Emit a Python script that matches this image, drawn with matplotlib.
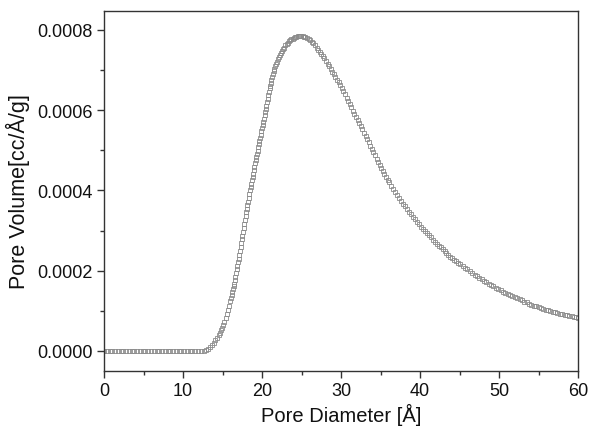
import numpy as np
import matplotlib
matplotlib.use("Agg")
import matplotlib.pyplot as plt
from matplotlib.ticker import MultipleLocator, FormatStrFormatter

# ----------------------------
# Data (pore volume in 1e-4 cc/Å/g)
# ----------------------------

flat_x = [0.00, 0.35, 0.70, 1.05, 1.40, 1.75, 2.10, 2.45, 2.80, 3.15, 3.50, 3.85,
          4.20, 4.55, 4.90, 5.25, 5.60, 5.95, 6.30, 6.65, 7.00, 7.35, 7.70, 8.05,
          8.40, 8.75, 9.10, 9.45, 9.80, 10.15, 10.50, 10.85, 11.20, 11.55, 11.90]
flat_y = [0.00, 0.00, 0.00, 0.00, 0.00, 0.00, 0.00, 0.00, 0.00, 0.00, 0.00, 0.00,
          0.00, 0.00, 0.00, 0.00, 0.00, 0.00, 0.00, 0.00, 0.00, 0.00, 0.00, 0.00,
          0.00, 0.00, 0.00, 0.00, 0.00, 0.00, 0.00, 0.00, 0.00, 0.00, 0.00]

onset_x = [12.25, 12.6, 12.9, 13.2, 13.45, 13.7, 13.9, 14.1, 14.3, 14.5, 14.65,
           14.8, 14.95, 15.1, 15.25, 15.4, 15.55, 15.7, 15.85]
onset_y = [0.00, 0.01, 0.03, 0.06, 0.10, 0.15, 0.20, 0.26, 0.32, 0.39, 0.45,
           0.51, 0.58, 0.65, 0.73, 0.82, 0.92, 1.02, 1.13]

rise_x = [16.00, 16.08, 16.16, 16.24, 16.32, 16.40, 16.48, 16.56, 16.64, 16.72,
          16.80, 16.88, 16.96, 17.04, 17.12, 17.20, 17.28, 17.36, 17.44, 17.52,
          17.60, 17.68, 17.76, 17.84, 17.92, 18.00, 18.08, 18.16, 18.24, 18.32,
          18.40, 18.48, 18.56, 18.64, 18.72, 18.80, 18.88, 18.96, 19.04, 19.12,
          19.20, 19.28, 19.36, 19.44, 19.52, 19.60, 19.68, 19.76, 19.84, 19.92,
          20.00, 20.08, 20.16, 20.24, 20.32, 20.40, 20.48, 20.56, 20.64, 20.72,
          20.80, 20.88, 20.96, 21.04]
rise_y = [1.25, 1.32, 1.40, 1.47, 1.54, 1.61, 1.68, 1.76, 1.85, 1.94,
          2.03, 2.12, 2.21, 2.30, 2.39, 2.49, 2.59, 2.68, 2.78, 2.87,
          2.97, 3.07, 3.16, 3.26, 3.35, 3.45, 3.54, 3.63, 3.72, 3.81,
          3.91, 4.00, 4.08, 4.17, 4.25, 4.34, 4.42, 4.51, 4.59, 4.67,
          4.75, 4.83, 4.91, 4.99, 5.07, 5.15, 5.23, 5.31, 5.39, 5.47,
          5.55, 5.63, 5.71, 5.79, 5.87, 5.95, 6.03, 6.11, 6.20, 6.28,
          6.37, 6.45, 6.54, 6.61]

peak_x = [21.12, 21.20, 21.28, 21.37, 21.46, 21.56, 21.66, 21.77, 21.88, 22.00,
          22.12, 22.25, 22.38, 22.52, 22.66, 22.80, 22.95, 23.10, 23.25, 23.40,
          23.55, 23.70, 23.86, 24.02, 24.18, 24.34, 24.50, 24.66, 24.82, 24.98,
          25.14]
peak_y = [6.68, 6.75, 6.82, 6.89, 6.97, 7.03, 7.09, 7.15, 7.21, 7.28,
          7.33, 7.38, 7.42, 7.47, 7.52, 7.56, 7.61, 7.64, 7.68, 7.71,
          7.74, 7.76, 7.78, 7.80, 7.81, 7.83, 7.84, 7.85, 7.85, 7.85,
          7.84]

fall_x = [25.3, 25.5, 25.7, 25.9, 26.1, 26.3, 26.5, 26.7, 26.9, 27.1, 27.3,
          27.5, 27.7, 27.9, 28.1, 28.3, 28.5, 28.7, 28.9, 29.1, 29.3, 29.5,
          29.7, 29.9, 30.1, 30.3, 30.5, 30.7, 30.9, 31.1, 31.3, 31.5, 31.7,
          31.9, 32.1, 32.3, 32.5, 32.7, 32.9, 33.1, 33.3, 33.5, 33.7, 33.9,
          34.1, 34.3, 34.5, 34.7, 34.9, 35.1, 35.3, 35.5, 35.7, 35.9, 36.1]
fall_y = [7.83, 7.82, 7.80, 7.78, 7.74, 7.70, 7.66, 7.61, 7.56, 7.51, 7.46,
          7.41, 7.35, 7.29, 7.23, 7.16, 7.10, 7.03, 6.96, 6.90, 6.83, 6.76,
          6.69, 6.62, 6.54, 6.47, 6.39, 6.31, 6.23, 6.15, 6.07, 5.99, 5.91,
          5.83, 5.75, 5.68, 5.60, 5.52, 5.44, 5.36, 5.28, 5.20, 5.11, 5.03,
          4.95, 4.87, 4.79, 4.71, 4.63, 4.55, 4.48, 4.41, 4.34, 4.27, 4.20]

mid_x = [36.35, 36.6, 36.85, 37.1, 37.35, 37.6, 37.85, 38.1, 38.35, 38.6,
         38.85, 39.1, 39.35, 39.6, 39.85, 40.1, 40.35, 40.6, 40.85, 41.1,
         41.35, 41.6, 41.85, 42.1, 42.35, 42.6, 42.85, 43.1, 43.35, 43.6,
         43.85, 44.1, 44.35, 44.6, 44.85]
mid_y = [4.12, 4.04, 3.96, 3.89, 3.81, 3.74, 3.67, 3.60, 3.53, 3.46,
         3.40, 3.34, 3.28, 3.22, 3.16, 3.10, 3.04, 2.99, 2.93, 2.88,
         2.83, 2.77, 2.72, 2.67, 2.62, 2.58, 2.53, 2.48, 2.44, 2.39,
         2.35, 2.31, 2.27, 2.23, 2.19]

tail_x = [45.1, 45.4, 45.7, 46.0, 46.3, 46.6, 46.9, 47.2, 47.5, 47.8, 48.1,
          48.4, 48.7, 49.0, 49.3, 49.6, 49.9, 50.2, 50.5, 50.8, 51.1, 51.4,
          51.7, 52.0, 52.3, 52.6, 52.9, 53.2, 53.5, 53.8, 54.1, 54.4, 54.7,
          55.0, 55.3, 55.6, 55.9, 56.2, 56.5, 56.8, 57.1, 57.4, 57.7, 58.0,
          58.3, 58.6, 58.9, 59.2, 59.5, 59.8, 60.0]
tail_y = [2.16, 2.11, 2.07, 2.03, 1.99, 1.95, 1.90, 1.86, 1.82, 1.79, 1.75,
          1.71, 1.68, 1.64, 1.61, 1.57, 1.54, 1.51, 1.48, 1.45, 1.42, 1.39,
          1.37, 1.34, 1.31, 1.29, 1.26, 1.23, 1.21, 1.18, 1.15, 1.13, 1.11,
          1.09, 1.07, 1.05, 1.03, 1.02, 1.00, 0.98, 0.96, 0.95, 0.93, 0.92,
          0.90, 0.89, 0.87, 0.86, 0.85, 0.84, 0.83]

diameter = np.array(flat_x + onset_x + rise_x + peak_x + fall_x + mid_x + tail_x)
volume = np.array(flat_y + onset_y + rise_y + peak_y + fall_y + mid_y + tail_y) * 1e-4

# ----------------------------
# Plot
# ----------------------------

plt.rcParams["font.family"] = ["Liberation Sans", "DejaVu Sans"]

fig = plt.figure(figsize=(5.9, 4.31), dpi=100)
ax = fig.add_axes([0.1763, 0.1369, 0.8034, 0.8353])

ax.plot(diameter, volume, linestyle="none", marker="s", markersize=2.8,
        markerfacecolor="none", markeredgecolor="#8a8a8a", markeredgewidth=0.6)

ax.set_xlim(0, 60)
ax.set_ylim(-0.00005, 0.000847)

ax.xaxis.set_major_locator(MultipleLocator(10))
ax.xaxis.set_minor_locator(MultipleLocator(5))
ax.yaxis.set_major_locator(MultipleLocator(0.0002))
ax.yaxis.set_minor_locator(MultipleLocator(0.0001))
ax.yaxis.set_major_formatter(FormatStrFormatter("%.4f"))

ax.tick_params(which="major", direction="out", length=5, width=1, labelsize=13,
               color="#333333", labelcolor="#111111", pad=3)
ax.tick_params(which="minor", direction="out", length=3, width=1, color="#333333")
ax.tick_params(top=False, right=False)

for sp in ax.spines.values():
    sp.set_color("#333333")
    sp.set_linewidth(1.0)

ax.set_xlabel("Pore Diameter [Å]", fontsize=14.5, color="#111111", labelpad=3)
ax.set_ylabel("Pore Volume[cc/Å/g]", fontsize=15.5, color="#111111", labelpad=5)

fig.savefig("out.png", dpi=100)
plt.close(fig)
